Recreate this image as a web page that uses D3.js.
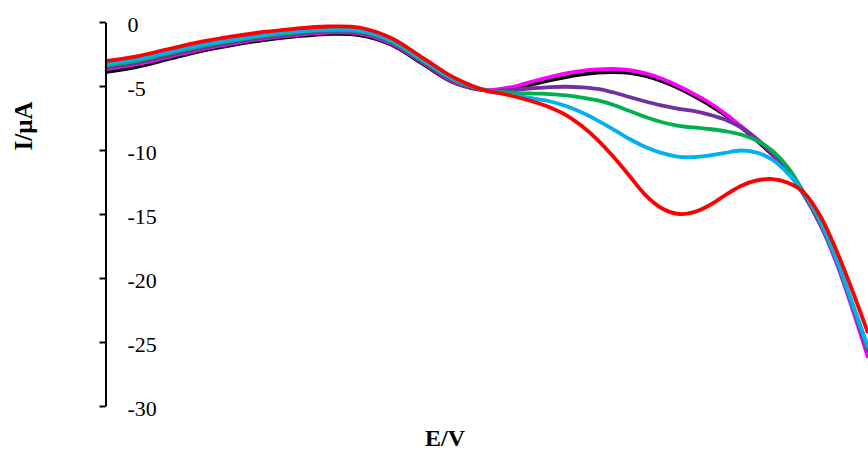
<!DOCTYPE html>
<html>
<head>
<meta charset="utf-8">
<script src="https://cdn.jsdelivr.net/npm/d3@7"></script>
<style>
  html, body { margin: 0; padding: 0; background: #fff; }
  svg { display: block; }
</style>
</head>
<body>
<div id="chart"></div>
<script>
// Potential grid (V) shared by every voltammogram
const potential = [
  -0.200, -0.150, -0.100, -0.050, 0.000, 0.050, 0.100, 0.150, 0.200, 0.250,
  0.300, 0.350, 0.400, 0.425, 0.450, 0.475, 0.500, 0.525, 0.550, 0.575,
  0.600, 0.625, 0.650, 0.675, 0.700, 0.725, 0.750, 0.775, 0.800, 0.825,
  0.850, 0.875, 0.900, 0.925, 0.950, 0.975, 1.000
];

// Current (µA) for each curve, in drawing order
const currentBlack = [
  -3.91, -3.50, -2.89, -2.27, -1.80, -1.41, -1.13, -0.94, -1.02, -1.76,
  -3.28, -4.77, -5.35, -5.31, -5.12, -4.84, -4.55, -4.30, -4.09, -3.95,
  -3.91, -3.98, -4.22, -4.61, -5.12, -5.74, -6.45, -7.27, -8.20, -9.26,
  -10.39, -11.76, -13.55, -15.82, -18.67, -22.19, -26.02
];
const currentMagenta = [
  -3.71, -3.30, -2.73, -2.15, -1.68, -1.29, -1.02, -0.82, -0.90, -1.68,
  -3.20, -4.73, -5.31, -5.20, -4.96, -4.61, -4.30, -4.02, -3.81, -3.70,
  -3.67, -3.77, -4.02, -4.41, -4.96, -5.59, -6.29, -7.15, -8.13, -9.14,
  -10.31, -11.72, -13.52, -15.78, -18.75, -22.34, -26.25
];
const currentPurple = [
  -3.59, -3.19, -2.62, -2.07, -1.60, -1.21, -0.94, -0.74, -0.82, -1.60,
  -3.13, -4.65, -5.35, -5.35, -5.27, -5.16, -5.08, -5.06, -5.10, -5.23,
  -5.51, -5.86, -6.21, -6.52, -6.76, -6.95, -7.23, -7.62, -8.24, -9.14,
  -10.23, -11.56, -13.48, -15.70, -18.59, -22.11, -25.78
];
const currentGreen = [
  -3.40, -3.03, -2.46, -1.91, -1.45, -1.09, -0.82, -0.66, -0.74, -1.52,
  -3.05, -4.57, -5.35, -5.47, -5.55, -5.59, -5.63, -5.74, -5.90, -6.13,
  -6.48, -6.95, -7.42, -7.81, -8.09, -8.24, -8.36, -8.52, -8.79, -9.26,
  -10.08, -11.41, -13.40, -15.63, -18.52, -22.03, -25.55
];
const currentBlue = [
  -3.28, -2.91, -2.34, -1.80, -1.37, -1.02, -0.74, -0.59, -0.66, -1.45,
  -2.97, -4.49, -5.35, -5.59, -5.78, -5.98, -6.21, -6.56, -7.07, -7.70,
  -8.40, -9.14, -9.77, -10.23, -10.51, -10.55, -10.43, -10.23, -10.04, -10.20,
  -10.78, -11.88, -13.40, -15.55, -18.44, -21.88, -25.39
];
const currentRed = [
  -3.05, -2.68, -2.11, -1.56, -1.13, -0.78, -0.51, -0.35, -0.43, -1.25,
  -2.81, -4.38, -5.38, -5.59, -5.90, -6.25, -6.68, -7.27, -8.13, -9.22,
  -10.55, -12.03, -13.52, -14.53, -14.98, -14.88, -14.34, -13.55, -12.81, -12.38,
  -12.27, -12.58, -13.36, -15.16, -17.81, -20.94, -24.30
];

const seriesColors = ["#000000", "#FF00FF", "#7030A0", "#00B050", "#00B0F0", "#FF0000"];
const seriesValues = [currentBlack, currentMagenta, currentPurple, currentGreen, currentBlue, currentRed];

const yTicks = [0, -5, -10, -15, -20, -25, -30];

const width = 868, height = 453;
const svg = d3.select("#chart").append("svg")
  .attr("width", width).attr("height", height);

const x = d3.scaleLinear().domain([-0.2, 1.0]).range([105, 868]);
const y = d3.scaleLinear().domain([-30, 0]).range([406, 22]);

// Smoothed voltammograms
const line = d3.line()
  .x((d, i) => x(potential[i]))
  .y(d => y(d))
  .curve(d3.curveCatmullRom.alpha(0.5));

svg.append("g").selectAll("path")
  .data(seriesValues)
  .join("path")
  .attr("d", d => line(d))
  .attr("fill", "none")
  .attr("stroke", (d, i) => seriesColors[i])
  .attr("stroke-width", 3.8)
  .attr("stroke-linejoin", "round");

// Vertical axis with labels sitting on its right side
const yAxis = d3.axisLeft(y)
  .tickValues(yTicks)
  .tickSize(6)
  .tickSizeOuter(0)
  .tickFormat(d3.format("d"));

const gy = svg.append("g")
  .attr("transform", "translate(105.5,0)")
  .call(yAxis);
gy.select(".domain").attr("stroke", "#000").attr("stroke-width", 2);
gy.selectAll(".tick line").attr("stroke", "#000").attr("stroke-width", 2);
gy.selectAll(".tick text")
  .attr("x", 22)
  .attr("dy", "0.45em")
  .attr("text-anchor", "start")
  .attr("fill", "#000")
  .style("font-family", "'Liberation Serif', 'Times New Roman', serif")
  .style("font-size", "22px")
  .text(d => d === 0 ? "0" : "-" + Math.abs(d));

// Axis titles
svg.append("text")
  .attr("transform", "translate(32,126) rotate(-90)")
  .attr("text-anchor", "middle")
  .style("font-family", "'Liberation Serif', 'Times New Roman', serif")
  .style("font-weight", "bold")
  .style("font-size", "25px")
  .text("I/μA");

svg.append("text")
  .attr("x", 445)
  .attr("y", 446)
  .attr("text-anchor", "middle")
  .style("font-family", "'Liberation Serif', 'Times New Roman', serif")
  .style("font-weight", "bold")
  .style("font-size", "24px")
  .text("E/V");
</script>
</body>
</html>
